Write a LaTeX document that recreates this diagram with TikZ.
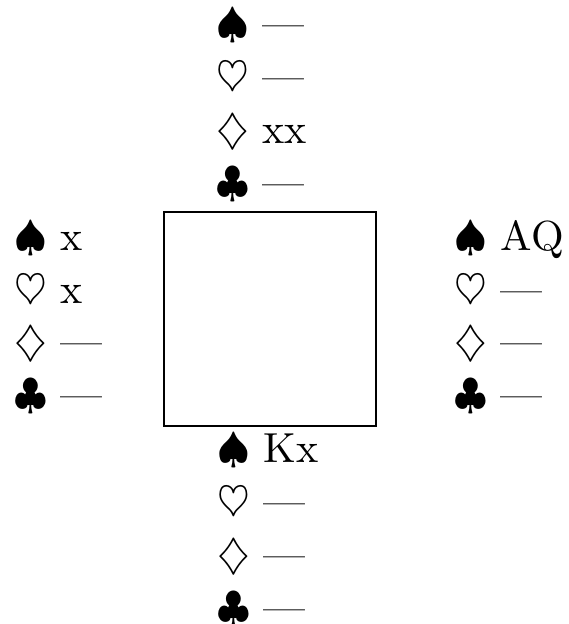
\documentclass[tikz,border=0pt]{standalone}
\tikzset{
  cardrow/.style={anchor=base west, inner sep=0pt, outer sep=0pt, font=\normalsize, scale=4.2, transform shape},
  boxline/.style={draw=black, line width=1.3pt}
}
\begin{document}
\begin{tikzpicture}[x=1pt,y=-1pt]
\useasboundingbox (0,0) rectangle (568,624);
% North
\node[cardrow] (n1) at (216,37)  {$\spadesuit$ ---};
\node[cardrow] (n2) at (216,90)  {$\heartsuit$ ---};
\node[cardrow] (n3) at (216,143) {$\diamondsuit$ xx};
\node[cardrow] (n4) at (216,196) {$\clubsuit$ ---};
% West
\node[cardrow] (w1) at (14,250) {$\spadesuit$ x};
\node[cardrow] (w2) at (14,303) {$\heartsuit$ x};
\node[cardrow] (w3) at (14,355) {$\diamondsuit$ ---};
\node[cardrow] (w4) at (14,408) {$\clubsuit$ ---};
% East
\node[cardrow] (e1) at (454,250) {$\spadesuit$ AQ};
\node[cardrow] (e2) at (454,303) {$\heartsuit$ ---};
\node[cardrow] (e3) at (454,355) {$\diamondsuit$ ---};
\node[cardrow] (e4) at (454,408) {$\clubsuit$ ---};
% South
\node[cardrow] (s1) at (217,462) {$\spadesuit$ Kx};
\node[cardrow] (s2) at (217,515) {$\heartsuit$ ---};
\node[cardrow] (s3) at (217,568) {$\diamondsuit$ ---};
\node[cardrow] (s4) at (217,621) {$\clubsuit$ ---};
% Table
\draw[boxline] (164,212) rectangle (376,426);
\end{tikzpicture}
\end{document}
